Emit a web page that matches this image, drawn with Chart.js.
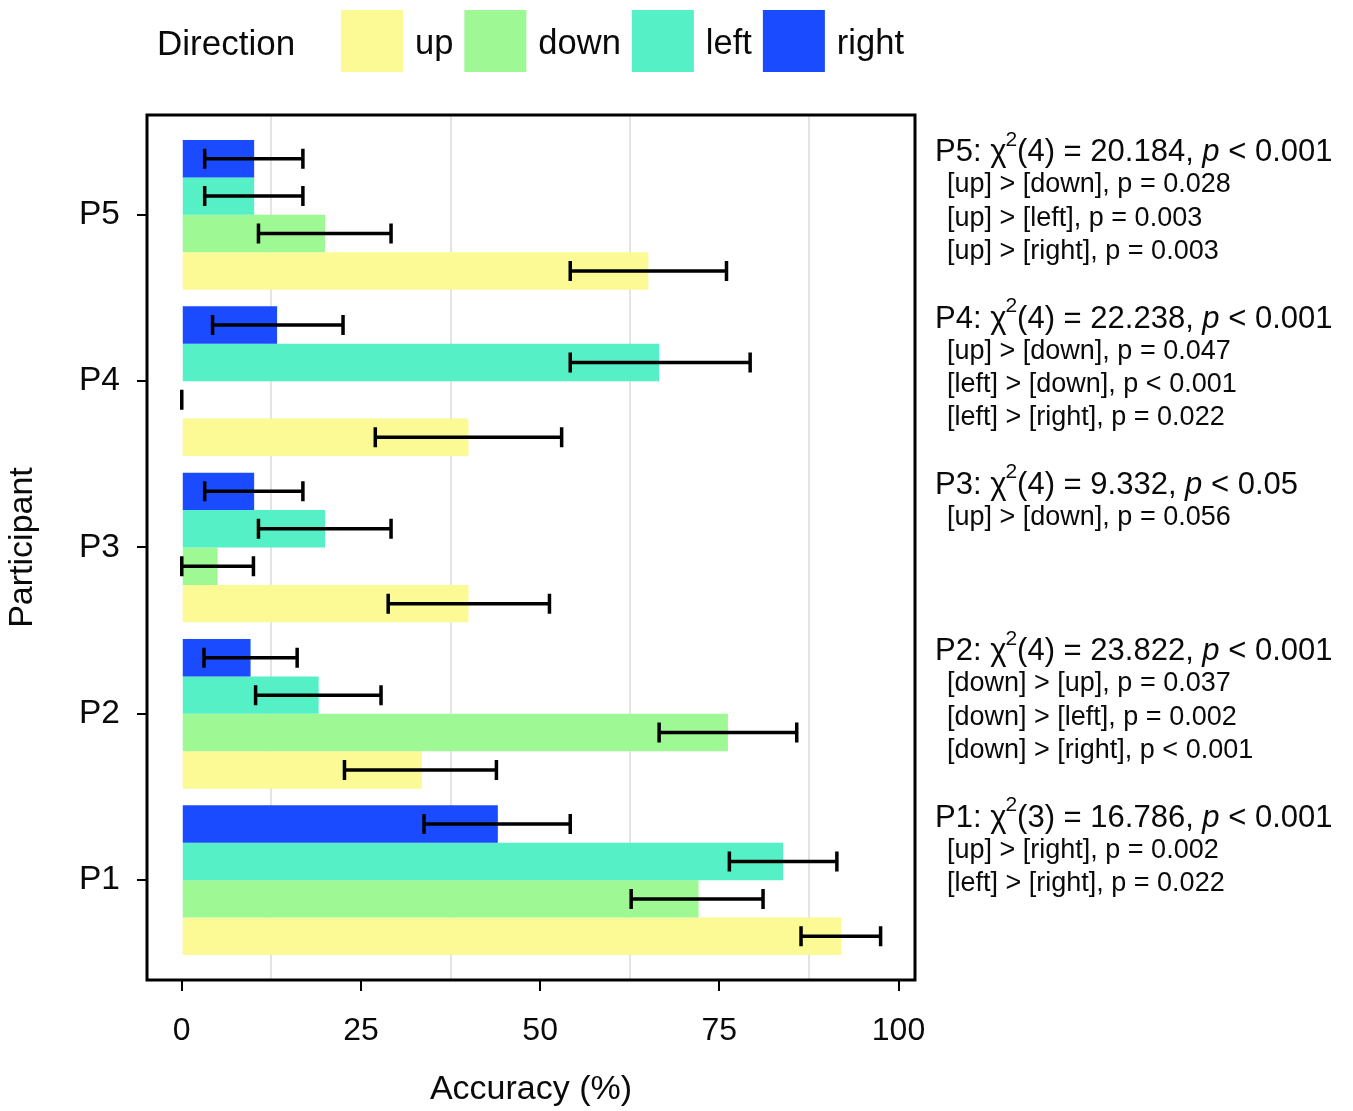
<!DOCTYPE html>
<html><head><meta charset="utf-8">
<script src="https://cdn.jsdelivr.net/npm/chart.js@4"></script>
<style>html,body{margin:0;padding:0;background:#fff;}#wrap{width:1353px;height:1111px;}</style>
</head><body><div id="wrap"><canvas id="c" width="1353" height="1111"></canvas></div>
<script>
const categories = ['P1', 'P2', 'P3', 'P4', 'P5'];
const directions = ['up', 'down', 'left', 'right'];
const upValues    = [92.0, 33.5, 40.0, 40.0, 65.1];
const upLow       = [86.4, 22.7, 28.8, 27.0, 54.2];
const upHigh      = [97.5, 43.9, 51.3, 53.0, 76.0];
const downValues  = [72.1, 76.2, 5.0, 0.0, 20.0];
const downLow     = [62.7, 66.6, 0.0, 0.0, 10.7];
const downHigh    = [81.1, 85.8, 10.0, 0.0, 29.2];
const leftValues  = [83.9, 19.1, 20.0, 66.6, 10.1];
const leftLow     = [76.4, 10.3, 10.7, 54.2, 3.2];
const leftHigh    = [91.4, 27.8, 29.2, 79.3, 16.9];
const rightValues = [44.1, 9.6, 10.1, 13.3, 10.1];
const rightLow    = [33.8, 3.1, 3.2, 4.3, 3.2];
const rightHigh   = [54.2, 16.1, 16.9, 22.5, 16.9];
const xTickLabels = [0, 25, 50, 75, 100];
const xGridValues = [12.5, 37.5, 62.5, 87.5];
const statDf   = [3, 4, 4, 4, 4];
const statChi  = ['16.786', '23.822', '9.332', '22.238', '20.184'];
const statP    = ['< 0.001', '< 0.001', '< 0.05', '< 0.001', '< 0.001'];
const postHoc  = [
  ['[up] > [right], p = 0.002', '[left] > [right], p = 0.022'],
  ['[down] > [up], p = 0.037', '[down] > [left], p = 0.002', '[down] > [right], p < 0.001'],
  ['[up] > [down], p = 0.056'],
  ['[up] > [down], p = 0.047', '[left] > [down], p < 0.001', '[left] > [right], p = 0.022'],
  ['[up] > [down], p = 0.028', '[up] > [left], p = 0.003', '[up] > [right], p = 0.003']
];

const FAM = '"Liberation Sans", Arial, Helvetica, sans-serif';
const TXT = '#0a0a0a';
const colors = { up: '#FBFA94', down: '#9EF893', left: '#55F0C6', right: '#1A4BFF' };
const series = {
  up: [upValues, upLow, upHigh],
  down: [downValues, downLow, downHigh],
  left: [leftValues, leftLow, leftHigh],
  right: [rightValues, rightLow, rightHigh]
};
// top-to-bottom order within a group: right, left, down, up
const drawOrder = ['right', 'left', 'down', 'up'];
const datasets = drawOrder.map(name => ({
  label: name,
  data: series[name][0].map((v, i) => ({ x: v, y: i })),
  errLow: series[name][1],
  errHigh: series[name][2],
  backgroundColor: colors[name],
  borderWidth: 0,
  categoryPercentage: 0.9,
  barPercentage: 1.0
}));

Chart.defaults.font.family = FAM;
Chart.defaults.color = TXT;

const framePlugin = {
  id: 'frame',
  afterDraw(chart) {
    const { ctx, chartArea: a } = chart;
    ctx.save();
    ctx.strokeStyle = '#000';
    ctx.lineWidth = 3;
    ctx.strokeRect(a.left, a.top, a.right - a.left, a.bottom - a.top);
    ctx.restore();
  }
};

const errorPlugin = {
  id: 'errbars',
  afterDatasetsDraw(chart) {
    const ctx = chart.ctx, xs = chart.scales.x;
    ctx.save();
    ctx.strokeStyle = '#000';
    ctx.lineWidth = 3.5;
    chart.data.datasets.forEach((ds, di) => {
      const meta = chart.getDatasetMeta(di);
      meta.data.forEach((bar, i) => {
        const y = bar.y;
        const x1 = xs.getPixelForValue(ds.errLow[i]);
        const x2 = xs.getPixelForValue(ds.errHigh[i]);
        ctx.beginPath();
        ctx.moveTo(x1, y); ctx.lineTo(x2, y);
        ctx.moveTo(x1, y - 10); ctx.lineTo(x1, y + 10);
        ctx.moveTo(x2, y - 10); ctx.lineTo(x2, y + 10);
        ctx.stroke();
      });
    });
    ctx.restore();
  }
};

const legendPlugin = {
  id: 'customLegend',
  afterDraw(chart) {
    const ctx = chart.ctx;
    ctx.save();
    ctx.textBaseline = 'middle';
    ctx.fillStyle = TXT;
    ctx.font = '35px ' + FAM;
    ctx.fillText('Direction', 157, 45);
    let x = 341;
    ctx.font = '34.5px ' + FAM;
    directions.forEach(d => {
      ctx.fillStyle = colors[d];
      ctx.fillRect(x, 10, 62, 62);
      x += 62 + 12;
      ctx.fillStyle = TXT;
      ctx.fillText(d, x, 44);
      x += ctx.measureText(d).width + 11;
    });
    ctx.restore();
  }
};

const statsPlugin = {
  id: 'stats',
  afterDraw(chart) {
    const ctx = chart.ctx, ys = chart.scales.y;
    ctx.save();
    ctx.fillStyle = TXT;
    ctx.textBaseline = 'middle';
    categories.forEach((name, i) => {
      const yc = ys.getPixelForValue(i) - 62;
      let x = 935;
      const big = '31px ' + FAM;
      ctx.font = big;
      let t = name + ': \u03C7';
      ctx.fillText(t, x, yc); x += ctx.measureText(t).width;
      ctx.font = '21px ' + FAM;
      ctx.fillText('2', x - 1, yc - 13); x += ctx.measureText('2').width - 1;
      ctx.font = big;
      t = '(' + statDf[i] + ') = ' + statChi[i] + ', ';
      ctx.fillText(t, x, yc); x += ctx.measureText(t).width;
      ctx.font = 'italic ' + big;
      ctx.fillText('p', x, yc); x += ctx.measureText('p').width;
      ctx.font = big;
      ctx.fillText(' ' + statP[i], x, yc);
      ctx.font = '27px ' + FAM;
      postHoc[i].forEach((line, k) => {
        ctx.fillText(line, 947, yc + 32 + k * 33.3);
      });
    });
    ctx.restore();
  }
};

new Chart(document.getElementById('c'), {
  type: 'bar',
  data: { datasets },
  options: {
    indexAxis: 'y',
    responsive: false,
    animation: false,
    layout: { padding: { top: 115, right: 438, left: 0, bottom: 0 } },
    plugins: { legend: { display: false }, tooltip: { enabled: false } },
    scales: {
      x: {
        type: 'linear', position: 'bottom', min: -4.85, max: 102.3,
        afterBuildTicks: s => { s.ticks = xTickLabels.concat(xGridValues).sort((a, b) => a - b).map(v => ({ value: v })); },
        afterFit: s => { s.height = 131; },
        border: { display: false },
        grid: {
          color: c => (c.tick && xGridValues.includes(c.tick.value)) ? '#E4E4E4' : 'rgba(0,0,0,0)',
          tickColor: c => (c.tick && xTickLabels.includes(c.tick.value)) ? '#000' : 'rgba(0,0,0,0)',
          lineWidth: 2, tickWidth: 2, tickLength: 11, drawTicks: true
        },
        ticks: {
          autoSkip: false, maxRotation: 0, padding: 21,
          callback: v => xTickLabels.includes(v) ? String(v) : '',
          font: { size: 32 }, color: TXT
        },
        title: { display: true, text: 'Accuracy (%)', font: { size: 34 }, color: TXT, padding: { top: 0, bottom: 1 } }
      },
      y: {
        type: 'linear', min: -0.6, max: 4.6, offset: false,
        afterBuildTicks: s => { s.ticks = categories.map((c, i) => ({ value: i })); },
        afterFit: s => { s.width = 147; },
        border: { display: false },
        grid: { drawOnChartArea: false, offset: false, color: '#000', tickColor: '#000', tickLength: 10, tickWidth: 2, lineWidth: 2 },
        ticks: { autoSkip: false, padding: 17, callback: v => categories[v] !== undefined ? categories[v] : '', font: { size: 33.5 }, color: TXT },
        title: { display: true, text: 'Participant', font: { size: 34 }, color: TXT, padding: { top: 2, bottom: 0 } }
      }
    }
  },
  plugins: [framePlugin, errorPlugin, legendPlugin, statsPlugin]
});
</script>
</body></html>
